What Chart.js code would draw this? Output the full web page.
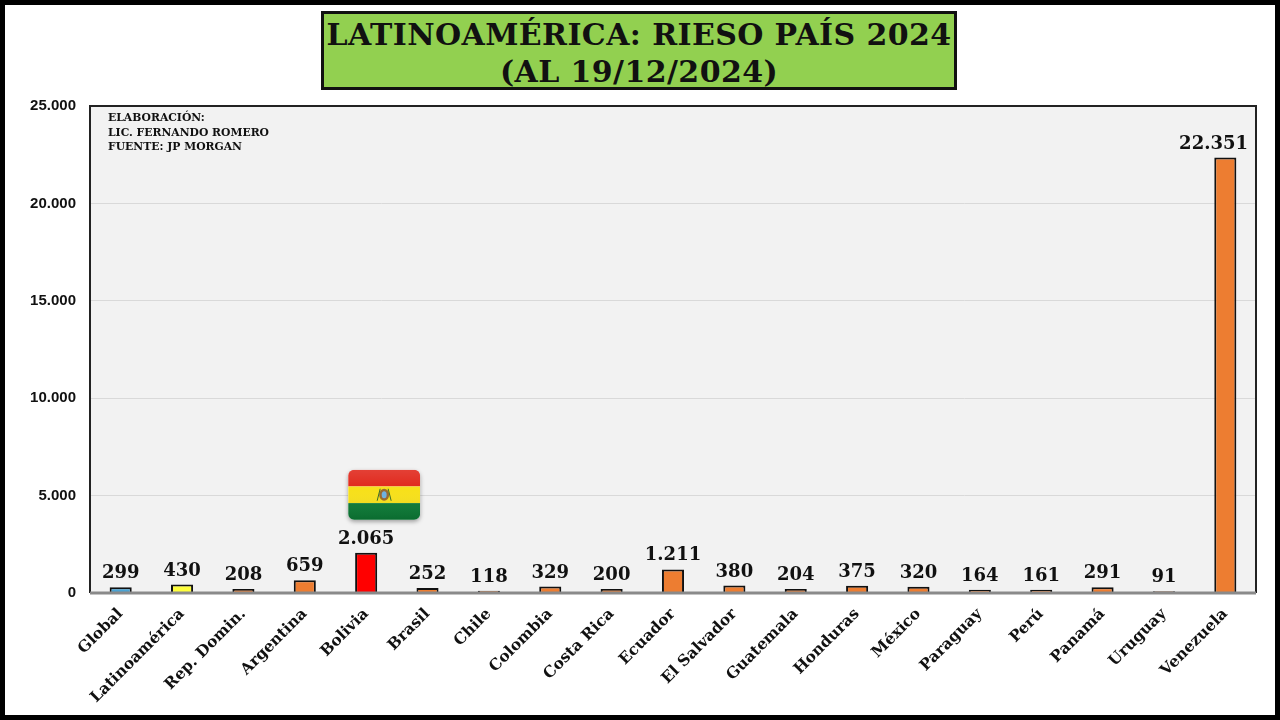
<!DOCTYPE html>
<html>
<head>
<meta charset="utf-8">
<script src="https://cdn.jsdelivr.net/npm/chart.js@4"></script>
<style>
  html, body { margin: 0; padding: 0; background: #fff; }
  #wrap { position: relative; width: 1280px; height: 720px; overflow: hidden; }
  #frame { position: absolute; left: 0; top: 0; width: 1280px; height: 720px; box-sizing: border-box; border: 5px solid #000; pointer-events: none; }
  #title {
    position: absolute; left: 321px; top: 11px; width: 636px; height: 79px; box-sizing: border-box;
    background: #92d050; border: 3px solid #111;
    font-family: "DejaVu Serif", serif; font-weight: bold; font-size: 30px; line-height: 37px;
    letter-spacing: 0.4px; text-align: center; color: #111; padding-top: 2px; white-space: nowrap;
  }
  #note {
    position: absolute; left: 108px; top: 111px;
    font-family: "DejaVu Serif", serif; font-weight: bold; font-size: 10.8px; line-height: 14.5px; color: #111;
  }
  canvas { position: absolute; left: 0; top: 0; }
</style>
</head>
<body>
<div id="wrap">
  <canvas id="mycanvas" width="1280" height="720"></canvas>
  <div id="title">LATINOAMÉRICA: RIESO PAÍS 2024<br>(AL 19/12/2024)</div>
  <div id="note">ELABORACIÓN:<br>LIC. FERNANDO ROMERO<br>FUENTE: JP MORGAN</div>
  <div id="frame"></div>
</div>
<script>
const categories = ['Global', 'Latinoamérica', 'Rep. Domin.', 'Argentina', 'Bolivia', 'Brasil', 'Chile',
  'Colombia', 'Costa Rica', 'Ecuador', 'El Salvador', 'Guatemala', 'Honduras', 'México', 'Paraguay',
  'Perú', 'Panamá', 'Uruguay', 'Venezuela'];
const riesgo = [299, 430, 208, 659, 2065, 252, 118, 329, 200, 1211, 380, 204, 375, 320, 164, 161, 291, 91, 22351];
const yMax = 25000;
const yStep = 5000;

function fmt(v) {
    return String(v).replace(/\B(?=(\d{3})+(?!\d))/g, '.');
}

function colorFor(cat) {
    if (cat === 'Global') return '#4ba3d3';
    if (cat === 'Latinoamérica') return '#ffff3c';
    if (cat === 'Bolivia') return '#ff0000';
    return '#ed7d31';
}

// plot background + border
const plotBox = {
    id: 'plotBox',
    beforeDraw(chart) {
        const a = chart.chartArea, ctx = chart.ctx;
        ctx.save();
        ctx.fillStyle = '#f2f2f2';
        ctx.fillRect(a.left, a.top, a.right - a.left, a.bottom - a.top);
        ctx.restore();
    },
    afterDatasetsDraw(chart) {
        const a = chart.chartArea, ctx = chart.ctx;
        ctx.save();
        ctx.strokeStyle = '#222';
        ctx.lineWidth = 2;
        ctx.beginPath();
        ctx.moveTo(a.left, a.bottom);
        ctx.lineTo(a.left, a.top);
        ctx.lineTo(a.right, a.top);
        ctx.lineTo(a.right, a.bottom);
        ctx.stroke();
        ctx.strokeStyle = '#8a8a8a';
        ctx.lineWidth = 3;
        ctx.beginPath();
        ctx.moveTo(a.left, a.bottom);
        ctx.lineTo(a.right, a.bottom);
        ctx.stroke();
        ctx.restore();
    }
};

// value labels over the bars (kept inside the plot area)
const valueLabels = {
    id: 'valueLabels',
    afterDatasetsDraw(chart) {
        const ctx = chart.ctx;
        const a = chart.chartArea;
        const meta = chart.getDatasetMeta(0);
        ctx.save();
        ctx.font = 'bold 18px "DejaVu Serif", serif';
        ctx.fillStyle = '#111';
        ctx.textAlign = 'center';
        ctx.textBaseline = 'alphabetic';
        meta.data.forEach((bar, i) => {
            const txt = fmt(riesgo[i]);
            const half = ctx.measureText(txt).width / 2;
            let x = bar.x;
            if (x + half > a.right - 8) x = a.right - 8 - half;
            ctx.fillText(txt, x, bar.y - 9);
        });
        ctx.restore();
    }
};

// Bolivian flag above the Bolivia bar
const flag = {
    id: 'flag',
    afterDatasetsDraw(chart) {
        const i = categories.indexOf('Bolivia');
        const bar = chart.getDatasetMeta(0).data[i];
        const ctx = chart.ctx;
        const w = 72, h = 50;
        const x = bar.x + 18 - w / 2, y = bar.y - 33 - h;
        ctx.save();
        ctx.shadowColor = 'rgba(0,0,0,0.35)';
        ctx.shadowBlur = 4;
        ctx.shadowOffsetY = 2;
        ctx.beginPath();
        ctx.roundRect(x, y, w, h, 6);
        ctx.fillStyle = '#fff';
        ctx.fill();
        ctx.shadowColor = 'transparent';
        ctx.clip();
        ctx.fillStyle = '#e0261a';
        ctx.fillRect(x, y, w, h / 3);
        ctx.fillStyle = '#f7e01a';
        ctx.fillRect(x, y + h / 3, w, h / 3);
        ctx.fillStyle = '#0b7a35';
        ctx.fillRect(x, y + 2 * h / 3, w, h / 3 + 1);
        // gloss
        const g = ctx.createLinearGradient(0, y, 0, y + h);
        g.addColorStop(0, 'rgba(255,255,255,0.12)');
        g.addColorStop(0.4, 'rgba(255,255,255,0.0)');
        g.addColorStop(1, 'rgba(0,0,0,0.12)');
        ctx.fillStyle = g;
        ctx.fillRect(x, y, w, h);
        // emblem
        const cx = x + w / 2, cy = y + h / 2;
        ctx.fillStyle = '#9a6a2f';
        ctx.beginPath();
        ctx.ellipse(cx, cy, 5, 6, 0, 0, Math.PI * 2);
        ctx.fill();
        ctx.fillStyle = '#6fb1e0';
        ctx.beginPath();
        ctx.ellipse(cx, cy, 2.5, 3.5, 0, 0, Math.PI * 2);
        ctx.fill();
        ctx.strokeStyle = '#3b6e2a';
        ctx.lineWidth = 1;
        ctx.beginPath();
        ctx.moveTo(cx - 7, cy + 6);
        ctx.lineTo(cx - 4, cy - 6);
        ctx.moveTo(cx + 7, cy + 6);
        ctx.lineTo(cx + 4, cy - 6);
        ctx.stroke();
        ctx.restore();
    }
};

new Chart(document.getElementById('mycanvas').getContext('2d'), {
    type: 'bar',
    data: {
        labels: categories,
        datasets: [{
            data: riesgo,
            backgroundColor: categories.map(colorFor),
            borderColor: '#111',
            borderWidth: 2,
            borderSkipped: 'bottom',
            categoryPercentage: 1,
            barPercentage: 0.36
        }]
    },
    options: {
        responsive: false,
        animation: false,
        devicePixelRatio: 1,
        layout: { padding: { left: 10, right: 24, top: 106, bottom: 0 } },
        plugins: { legend: { display: false }, tooltip: { enabled: false } },
        scales: {
            x: {
                grid: { display: false },
                border: { display: false },
                ticks: {
                    color: '#111',
                    font: { family: '"DejaVu Serif", serif', weight: 'bold', size: 15.5 },
                    minRotation: 45,
                    maxRotation: 45,
                    padding: 4
                },
                afterFit(scale) { scale.height = 127; }
            },
            y: {
                min: 0,
                max: yMax,
                grid: { color: '#d9d9d9', lineWidth: 1, drawTicks: false },
                border: { display: false },
                ticks: {
                    stepSize: yStep,
                    color: '#111',
                    padding: 14,
                    font: { family: '"Liberation Sans", Arial, sans-serif', weight: 'bold', size: 15 },
                    callback: v => fmt(v)
                },
                afterFit(scale) { scale.width = 80; }
            }
        }
    },
    plugins: [plotBox, valueLabels, flag]
});
</script>
</body>
</html>
